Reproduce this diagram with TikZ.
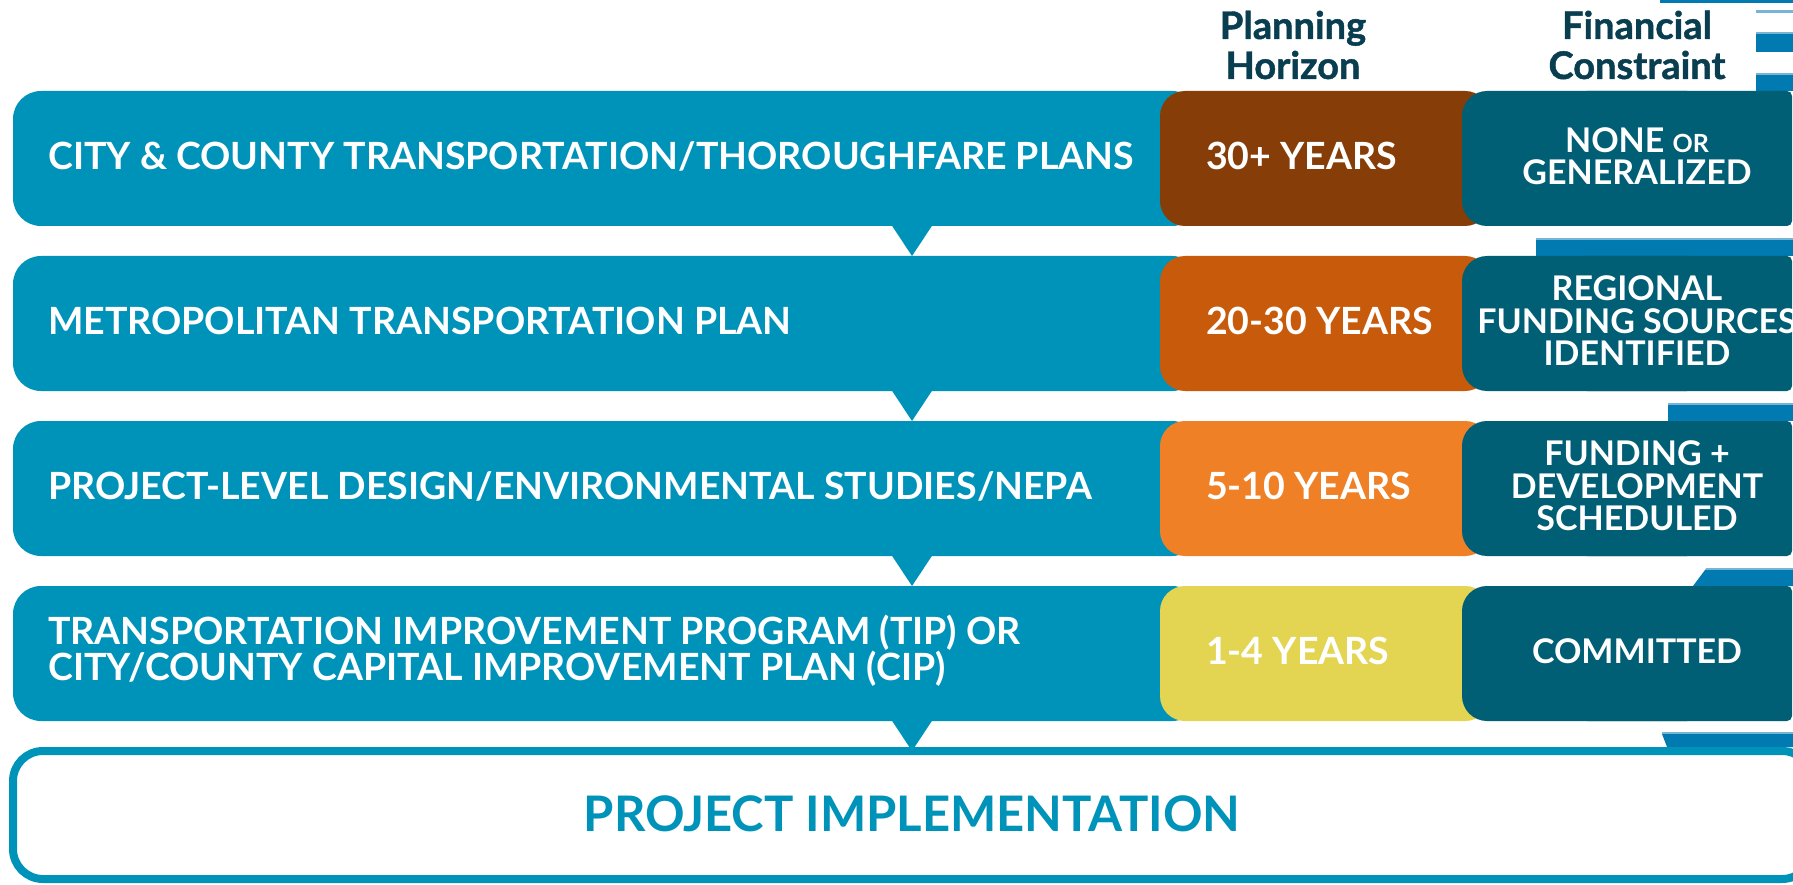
\documentclass[tikz,border=0pt]{standalone}
\usepackage{fontspec}
\setmainfont{Lato}
\newfontfamily\headfont{Lato}[BoldFeatures={FakeBold=1.2}]
\usetikzlibrary{calc}
\definecolor{rowblue}{RGB}{0,147,186}
\definecolor{brownA}{RGB}{134,61,8}
\definecolor{orangeA}{RGB}{200,90,12}
\definecolor{orangeB}{RGB}{240,128,38}
\definecolor{yellowA}{RGB}{227,212,82}
\definecolor{tealA}{RGB}{0,94,117}
\definecolor{headtxt}{RGB}{8,62,80}
\definecolor{stripe}{RGB}{0,122,176}
\definecolor{stripelt}{RGB}{120,180,212}
\tikzset{
  rowbar/.style={fill=rowblue, rounded corners=28pt, minimum width=1187pt, minimum height=135pt, inner sep=0pt, outer sep=0pt},
  yearbox/.style={rounded corners=25pt, minimum width=330pt, minimum height=135pt, inner sep=0pt, outer sep=0pt},
  fcbox/.style={minimum width=330pt, minimum height=135pt, inner sep=0pt, outer sep=0pt},
  rowtxt/.style={anchor=west, text=white, font=\fontsize{37.5}{35}\selectfont\bfseries, align=left, inner sep=0pt},
  yeartxt/.style={anchor=west, text=white, font=\fontsize{37.5}{35}\selectfont\bfseries, inner sep=0pt},
  fctxt/.style={text=white, font=\fontsize{34}{32.5}\selectfont\bfseries, align=center, inner sep=0pt},
  headtext/.style={text=headtxt, font=\fontsize{38}{40}\headfont\bfseries, align=center, inner sep=0pt},
  stripeA/.style={fill=stripe},
  stripeB/.style={fill=stripelt},
  pointer/.style={fill=rowblue}
}
\begin{document}
\begin{tikzpicture}[x=1pt,y=-1pt]
\clip (0,0) rectangle (1793,885);
\fill[white] (0,0) rectangle (1793,885);
% decorative stripes at right edge
\fill[stripeA] (1660,0) rectangle (1793,3);
\fill[stripeB] (1756,10) rectangle (1793,13);
\fill[stripeB] (1756,32) rectangle (1793,34);
\fill[stripeA] (1756,34) rectangle (1793,52);
\fill[stripeB] (1756,73) rectangle (1793,75);
\fill[stripeA] (1756,75) rectangle (1793,91);
\fill[stripeB] (1536,238) rectangle (1793,240);
\fill[stripeA] (1536,240) rectangle (1793,256);
\fill[stripeB] (1668,403) rectangle (1793,405);
\fill[stripeA] (1668,405) rectangle (1793,421);
\fill[stripeB] (1706,568) -- (1793,568) -- (1793,570) -- (1705,570) -- cycle;
\fill[stripeA] (1705,570) -- (1793,570) -- (1793,586) -- (1693,586) -- cycle;
\fill[stripeB] (1662,732) -- (1793,732) -- (1793,734) -- (1662,734) -- cycle;
\fill[stripeA] (1662,734) -- (1793,734) -- (1793,747) -- (1667,747) -- cycle;

% headers
\node[headtext] (hph) at (1293,45) {Planning\\Horizon};
\node[headtext] (hfc) at (1637,45) {Financial\\Constraint};

% rows
\foreach \i/\yc/\col in {1/158.5/brownA, 2/323.5/orangeA, 3/488.5/orangeB, 4/653.5/yellowA}{
  \node[rowbar] (r\i) at (606.5,\yc) {};
  \node[yearbox, fill=\col] (y\i) at (1325,\yc) {};
  \node[fcbox] (f\i) at (1627,\yc) {};
  \fill[tealA, rounded corners=25pt] (f\i.north west) rectangle ($(f\i.south east)+(-80,0)$);
  \fill[tealA, rounded corners=5pt] ($(f\i.north west)+(120,0)$) rectangle (f\i.south east);
}

% row labels
\node[rowtxt] (t1) at (48,156) {CITY \& COUNTY TRANSPORTATION/THOROUGHFARE PLANS};
\node[rowtxt] (t2) at (48,321) {METROPOLITAN TRANSPORTATION PLAN};
\node[rowtxt] (t3) at (48,486) {PROJECT-LEVEL DESIGN/ENVIRONMENTAL STUDIES/NEPA};
\node[rowtxt] (t4) at (48,651) {TRANSPORTATION IMPROVEMENT PROGRAM (TIP) OR\\CITY/COUNTY CAPITAL IMPROVEMENT PLAN (CIP)};

% year labels
\node[yeartxt] (yt1) at (1206,156) {30+ YEARS};
\node[yeartxt] (yt2) at (1206,321) {20-30 YEARS};
\node[yeartxt] (yt3) at (1206,486) {5-10 YEARS};
\node[yeartxt] (yt4) at (1206,651) {1-4 YEARS};

% financial constraint labels
\node[fctxt] (ft1) at (1637,156) {NONE {\fontsize{25}{32}\selectfont OR}\\GENERALIZED};
\node[fctxt] (ft2) at (1637,321) {REGIONAL\\FUNDING SOURCES\\IDENTIFIED};
\node[fctxt] (ft3) at (1637,486) {FUNDING +\\DEVELOPMENT\\SCHEDULED};
\node[fctxt] (ft4) at (1637,651) {COMMITTED};

% implementation box
\node[draw=rowblue, line width=8pt, rounded corners=30pt, minimum width=1799pt, minimum height=128pt, inner sep=0pt, outer sep=0pt] (impl) at (912.5,815) {};
\node[text=rowblue, font=\fontsize{49}{49}\selectfont\bfseries, inner sep=0pt] (implt) at (912,814) {PROJECT IMPLEMENTATION};

% pointers
\coordinate (tc) at (912,0);
\foreach \a/\b in {r1/r2, r2/r3, r3/r4}{
  \fill[pointer] ($(\a.south -| tc)+(-20.5,-1)$) -- ($(\a.south -| tc)+(20.5,-1)$) -- (\b.north -| tc) -- cycle;
}
\fill[pointer] ($(r4.south -| tc)+(-20.5,-1)$) -- ($(r4.south -| tc)+(20.5,-1)$) -- (impl.north -| tc) -- cycle;
\end{tikzpicture}
\end{document}
